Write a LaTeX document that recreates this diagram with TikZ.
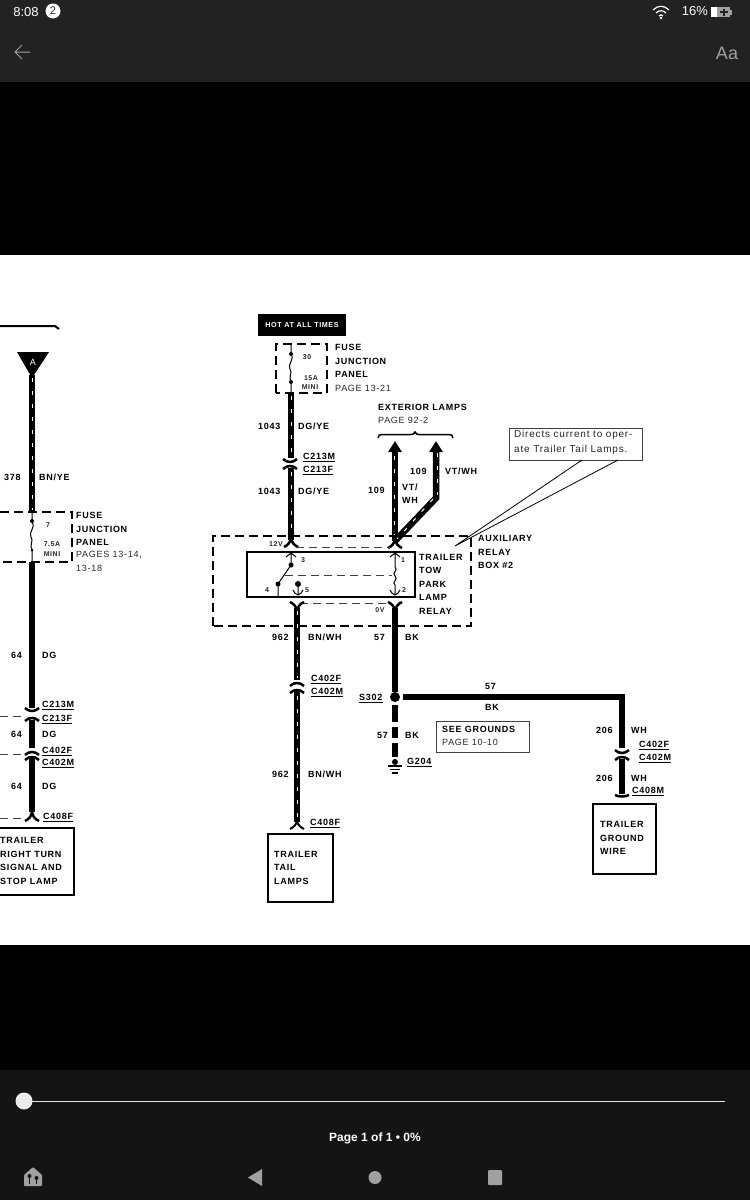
\documentclass[tikz,border=0pt]{standalone}
\usepackage{fontspec}
\setmainfont{Liberation Sans}
\newfontfamily\wirebold[LetterSpace=8]{Liberation Sans Bold}
\newfontfamily\wirereg[LetterSpace=8]{Liberation Sans}
\usetikzlibrary{arrows.meta,calc}
\definecolor{barcol}{HTML}{222222}
\definecolor{navcol}{HTML}{141414}
\definecolor{iconcol}{HTML}{A0A0A0}
\newcommand{\wiredash}[2]{\draw[stripe] #1 -- #2;}
\newcommand{\connup}[2]{\draw[conn] (#1-7,#2-3) .. controls (#1-3,#2+1) and (#1+3,#2+1) .. (#1+7,#2-3);}
\newcommand{\conndn}[2]{\draw[conn] (#1-7,#2+3) .. controls (#1-3,#2-1) and (#1+3,#2-1) .. (#1+7,#2+3);}
\newcommand{\flare}[2]{\draw[conn] (#1-7,#2+3) .. controls (#1-3,#2+1) and (#1-1,#2-1) .. (#1,#2-6) .. controls (#1+1,#2-1) and (#1+3,#2+1) .. (#1+7,#2+3);}
\newcommand{\flareup}[2]{\draw[conn] (#1-7,#2-3) .. controls (#1-3,#2-1) and (#1-1,#2+1) .. (#1,#2+6) .. controls (#1+1,#2+1) and (#1+3,#2-1) .. (#1+7,#2-3);}
\tikzset{
 x=1pt,y=-1pt,
 lb/.style={anchor=west,inner sep=0pt,font=\wirebold\fontsize{9}{9}\selectfont,text=black},
 lr/.style={anchor=west,inner sep=0pt,font=\wirereg\fontsize{9}{9}\selectfont,text=black!85},
 ls/.style={anchor=center,inner sep=0pt,font=\wirebold\fontsize{7}{7}\selectfont,text=black!85},
 ul/.style={inner ysep=2pt,append after command={(\tikzlastnode.south west) edge[line width=1pt,black] (\tikzlastnode.south east)}},
 wire/.style={line width=6.5pt,black},
 bkwire/.style={line width=6.5pt,black},
 stripe/.style={line width=1pt,white,dash pattern=on 4pt off 9pt},
 conn/.style={line width=2.5pt,black},
 dbox/.style={line width=2pt,black,dash pattern=on 9pt off 5pt},
 dthin/.style={line width=1pt,black!75,dash pattern=on 8pt off 5pt},
 box/.style={line width=2pt,black},
 dot/.style={circle,fill=black,inner sep=0pt,minimum size=#1},
 uitext/.style={inner sep=0pt,text=white,font=\fontsize{#1}{#1}\selectfont},
 tip/.style={-{Triangle[width=13pt,length=11pt]}},
}
\begin{document}
\begin{tikzpicture}
\useasboundingbox (0,0) rectangle (750,1200);
% screen regions
\fill[black] (0,0) rectangle (750,1200);
\fill[barcol] (0,0) rectangle (750,82);
\fill[white] (0,255) rectangle (750,945);
\fill[navcol] (0,1070) rectangle (750,1200);
% status bar
\node[uitext=13] (clock) at (26,12) {8:08};
\node[circle,fill=white,inner sep=0pt,minimum size=15pt,text=barcol,font=\fontsize{11}{11}\selectfont] (badge) at (53,11) {2};
\node[uitext=13] (batt) at (695,11) {16\%};
\draw[white,line width=1.2pt] (653,10) .. controls (658,5) and (664,5) .. (669,10);
\draw[white,line width=1.2pt] (656,13) .. controls (659,10) and (663,10) .. (666,13);
\draw[white,line width=1.2pt] (659,16) .. controls (660,14.5) and (662,14.5) .. (663,16);
\fill[white] (661,18) circle (1.3);
\fill[white] (711,7) rectangle (717,17);
\fill[iconcol] (717,7) rectangle (730,17);
\fill[iconcol] (730,9.5) rectangle (732,14.5);
\draw[barcol,line width=1.2pt] (720,12) -- (728,12) (724,8.5) -- (724,15.5);
\draw[iconcol,line width=1pt] (30,52) -- (15,52) (22,45) -- (15,52) -- (22,59);
\node[uitext=18,text=iconcol] (aa) at (727,53) {Aa};
% bottom bar
\draw[white!90!black,line width=1pt] (24,1101) -- (725,1101);
\fill[white!92!black] (24,1101) circle (8.5);
\node[uitext=12,font=\bfseries\fontsize{12}{12}\selectfont] (pg) at (375,1138) {Page 1 of 1 • 0\%};
\fill[iconcol] (262,1169) -- (262,1186) -- (248,1177.5) -- cycle;
\fill[iconcol] (375,1177.5) circle (6.5);
\fill[iconcol,rounded corners=1pt] (488,1170) rectangle (502,1185);
\fill[iconcol,rounded corners=1pt] (24,1186) -- (24,1175) -- (33,1167) -- (42,1175) -- (42,1186) -- cycle;
\fill[navcol] (29.5,1176) circle (2) (36.5,1178) circle (2);
\draw[navcol,line width=1.2pt] (29.5,1176) -- (29.5,1184) (36.5,1178) -- (36.5,1184);

% === left fragment ===
\draw[line width=2pt,black] (0,326) -- (55,326) -- (59,329);
\fill[black] (17,352) -- (49,352) -- (32,378) -- cycle;
\node[inner sep=0pt,text=white,font=\fontsize{9}{9}\selectfont] (tagA) at (33,362) {A};
\coordinate (la) at (32,375); \coordinate (lb) at (32,512);
\draw[wire] (la) -- (lb);
\wiredash{(32,378)}{(32,510)}
\draw[dbox] (0,512) -- (72,512) -- (72,562) -- (0,562);
\draw[line width=1pt,black] (32,512) -- (32,522) .. controls (36,528) and (28,532) .. (31,537) .. controls (34,541) and (29,545) .. (32,550) -- (32,562);
\node[dot=4pt] (lf1) at (32,521) {};
\node[dot=3pt] (lf2) at (32,550) {};
\draw[wire] (32,562) -- (32,708);
\connup{32}{711}
\conndn{32}{718}
\draw[wire] (32,720) -- (32,748);
\conndn{32}{752}
\conndn{32}{757}
\draw[wire] (32,758) -- (32,812);
\flare{32}{818}
\draw[dthin] (0,716) -- (26,716);
\draw[dthin] (0,754) -- (26,754);
\draw[dthin] (0,818) -- (26,818);
\draw[box] (-3,828) rectangle (74,895);
\node[ls] (f7) at (48,525) {7};
\node[ls] (f75) at (52,544) {7.5A};
\node[ls] (fm) at (52,554) {MINI};
\node[lb] (t378) at (4,477) {378};
\node[lb] (tbnye) at (39,477) {BN/YE};
\node[lb] (lf1t) at (76,515) {FUSE};
\node[lb] (lf2t) at (76,529) {JUNCTION};
\node[lb] (lf3t) at (76,542) {PANEL};
\node[lr] (lf4t) at (76,555) {PAGES 13-14,};
\node[lr] (lf5t) at (76,568) {13-18};
\node[lb] (t64a) at (11,655) {64};
\node[lb] (tdga) at (42,655) {DG};
\node[lb,ul] (lc1) at (42,704) {C213M};
\node[lb,ul] (lc2) at (42,718) {C213F};
\node[lb] (t64b) at (11,734) {64};
\node[lb] (tdgb) at (42,734) {DG};
\node[lb,ul] (lc3) at (42,750) {C402F};
\node[lb,ul] (lc4) at (42,762) {C402M};
\node[lb] (t64c) at (11,786) {64};
\node[lb] (tdgc) at (42,786) {DG};
\node[lb,ul] (lc5) at (43,816) {C408F};
\node[lb] (lt1) at (0,840) {TRAILER};
\node[lb] (lt2) at (0,854) {RIGHT TURN};
\node[lb] (lt3) at (0,867) {SIGNAL AND};
\node[lb] (lt4) at (0,881) {STOP LAMP};

% === centre ===
\node[fill=black,minimum width=88pt,minimum height=22pt,inner sep=0pt,text=white,font=\wirebold\fontsize{7.2}{7.2}\selectfont] (hot) at (302,325) {HOT AT ALL TIMES};
\draw[dbox] (276,393) -- (276,344) -- (327,344) -- (327,393) -- cycle;
\draw[line width=1pt,black] (291,344) -- (291,354) .. controls (295,360) and (287,364) .. (290,369) .. controls (293,373) and (288,377) .. (291,382) -- (291,393);
\node[dot=4pt] (cf1) at (291,354) {};
\node[dot=4pt] (cf2) at (291,382) {};
\node[ls] (f30) at (307,357) {30};
\node[ls] (f15) at (311,378) {15A};
\node[ls] (fmn) at (310,387) {MINI};
\node[lb] (cf1t) at (335,347) {FUSE};
\node[lb] (cf2t) at (335,361) {JUNCTION};
\node[lb] (cf3t) at (335,374) {PANEL};
\node[lr] (cf4t) at (335,388) {PAGE 13-21};
% wire 1043
\coordinate (w1a) at (291,393); \coordinate (w1b) at (291,458);
\draw[wire] (w1a) -- (w1b);
\wiredash{(291,396)}{(291,456)}
\connup{290}{462}
\conndn{290}{466}
\draw[wire] (291,468) -- (291,540);
\wiredash{(291,472)}{(291,538)}
\flare{291}{544}
\node[lb] (t1043a) at (258,426) {1043};
\node[lb] (tdgya) at (298,426) {DG/YE};
\node[lb,ul] (cc1) at (303,456) {C213M};
\node[lb,ul] (cc2) at (303,469) {C213F};
\node[lb] (t1043b) at (258,491) {1043};
\node[lb] (tdgyb) at (298,491) {DG/YE};
% exterior lamps
\node[lb] (ext) at (378,407) {EXTERIOR LAMPS};
\node[lr] (extp) at (378,420) {PAGE 92-2};
\draw[line width=1.5pt,black] (378,438) .. controls (378,435) and (380,434.5) .. (382,434.5) -- (411,434.5) .. controls (413,434.5) and (414,434) .. (415,432) .. controls (416,434) and (417,434.5) .. (419,434.5) -- (449,434.5) .. controls (451,434.5) and (453,435) .. (453,438);
\coordinate (arA) at (395,441); \coordinate (arB) at (436,441); \coordinate (bend) at (436,498); \coordinate (nodeT) at (395,541);
\draw[wire,tip] (nodeT) -- (arA);
\draw[wire,tip] (nodeT) -- (bend) -- (arB);
\draw[stripe] (394,538) -- (394,454);
\draw[stripe] (437,453) -- (437,495);
\draw[stripe] (433,499) -- (397,539);
\flare{395}{545}
\node[lb] (t109a) at (410,471) {109};
\node[lb] (tvtwh) at (445,471) {VT/WH};
\node[lb] (t109b) at (368,490) {109};
\node[lb] (tvt) at (402,487) {VT/};
\node[lb] (twh) at (402,500) {WH};
% relay box
\draw[dbox] (213,626) -- (213,536) -- (471,536) -- (471,626) -- cycle;
% callout
\node[draw=black!75,line width=1pt,fill=white,minimum width=133pt,minimum height=32pt,inner sep=0pt,anchor=north west] (call) at (509,428) {};
\node[anchor=west,inner sep=0pt,font=\wirereg\fontsize{10}{10}\selectfont,text=black!85] (ca1) at (514,435) {Directs current to oper-};
\node[anchor=west,inner sep=0pt,font=\wirereg\fontsize{10}{10}\selectfont,text=black!85] (ca2) at (514,450) {ate Trailer Tail Lamps.};
\coordinate (cTip) at (455,546);
\draw[line width=0.8pt,black] (582,460) -- (cTip) -- (618,460);
\draw[box,fill=white] (247,552) rectangle (415,597);
\draw[dthin] (296,547) -- (390,547);
\draw[dthin] (300,603) -- (390,603);
\draw[dthin] (285,575) -- (392,575);
\node[ls] (v12) at (276,544) {12V};
\node[ls] (v0) at (380,610) {0V};
% switch
\draw[line width=1pt,black] (286,557) -- (291,553) -- (296,557) (291,553) -- (291,565) -- (278,584) -- (278,596);
\node[dot=5pt] (sw1) at (291,565) {};
\node[dot=5pt] (sw2) at (278,584) {};
\node[dot=6pt] (sw3) at (298,584) {};
\draw[line width=1pt,black] (298,584) -- (298,594) (293,590) .. controls (294,593) and (296,594) .. (298,595) .. controls (300,594) and (302,593) .. (303,590);
\node[ls] (p3) at (303,560) {3};
\node[ls] (p1) at (403,560) {1};
\node[ls] (p4) at (267,590) {4};
\node[ls] (p5) at (307,590) {5};
\node[ls] (p2) at (404,590) {2};
\draw[line width=1pt,black] (390,557) -- (395,553) -- (400,557) (395,553) -- (395,567) .. controls (399,570) and (391,573) .. (395,576) .. controls (399,579) and (391,582) .. (395,585) -- (395,595) (390,590) .. controls (391,593) and (393,594) .. (395,595) .. controls (397,594) and (399,593) .. (400,590);
\node[lb] (rl1) at (419,557) {TRAILER};
\node[lb] (rl2) at (419,570) {TOW};
\node[lb] (rl3) at (419,584) {PARK};
\node[lb] (rl4) at (419,597) {LAMP};
\node[lb] (rl5) at (419,611) {RELAY};
\node[lb] (ax1) at (478,538) {AUXILIARY};
\node[lb] (ax2) at (478,552) {RELAY};
\node[lb] (ax3) at (478,565) {BOX \#2};
% wire 962
\flareup{297}{605}
\draw[wire] (297,608) -- (297,680);
\wiredash{(297,611)}{(297,678)}
\conndn{297}{683}
\conndn{297}{690}
\draw[wire] (297,690) -- (297,822);
\wiredash{(297,696)}{(297,818)}
\draw[line width=2pt,black] (290,829) .. controls (294,827) and (296,825) .. (297,821) .. controls (298,825) and (300,827) .. (304,829);
\node[lb] (t962a) at (272,637) {962};
\node[lb] (tbna) at (308,637) {BN/WH};
\node[lb,ul] (cb1) at (311,678) {C402F};
\node[lb,ul] (cb2) at (311,691) {C402M};
\node[lb] (t962b) at (272,774) {962};
\node[lb] (tbnb) at (308,774) {BN/WH};
\node[lb,ul] (cb3) at (310,822) {C408F};
\draw[box] (268,834) rectangle (333,902);
\node[lb] (tt1) at (274,854) {TRAILER};
\node[lb] (tt2) at (274,867) {TAIL};
\node[lb] (tt3) at (274,881) {LAMPS};
% wire 57
\flareup{395}{605}
\node[dot=10pt] (splice) at (395,697) {};
\node[dot=6pt] (gnd) at (395,762) {};
\draw[bkwire] (395,608) -- (splice);
\draw[bkwire] (395,705) -- (395,722) (395,727) -- (395,738) (395,743) -- (395,757);
\draw[line width=1.2pt,black] (388,766) -- (402,766) (390,769.5) -- (400,769.5) (392,773) -- (398,773);
\coordinate (hEnd) at (622,697);
\draw[bkwire] (403,697) -- (hEnd) -- (622,748);
\connup{622}{753}
\conndn{622}{757}
\draw[bkwire] (622,759) -- (622,794);
\draw[conn] (615,795) .. controls (619,797) and (625,797) .. (629,795);
\node[lb] (t57a) at (374,637) {57};
\node[lb] (tbka) at (405,637) {BK};
\node[lb,ul] (s302) at (359,697) {S302};
\node[lb] (t57b) at (485,686) {57};
\node[lb] (tbkb) at (485,707) {BK};
\node[lb] (t57c) at (377,735) {57};
\node[lb] (tbkc) at (405,735) {BK};
\node[lb,ul] (g204) at (407,761) {G204};
\draw[line width=1pt,black!75] (436,721) rectangle (529,752);
\node[lb] (sg1) at (442,729) {SEE GROUNDS};
\node[lr] (sg2) at (442,742) {PAGE 10-10};
\node[lb] (t206a) at (596,730) {206};
\node[lb] (twha) at (631,730) {WH};
\node[lb,ul] (cg1) at (639,744) {C402F};
\node[lb,ul] (cg2) at (639,757) {C402M};
\node[lb] (t206b) at (596,778) {206};
\node[lb] (twhb) at (631,778) {WH};
\node[lb,ul] (cg3) at (632,790) {C408M};
\draw[box] (593,804) rectangle (656,874);
\node[lb] (gt1) at (600,824) {TRAILER};
\node[lb] (gt2) at (600,838) {GROUND};
\node[lb] (gt3) at (600,851) {WIRE};
\end{tikzpicture}
\end{document}
